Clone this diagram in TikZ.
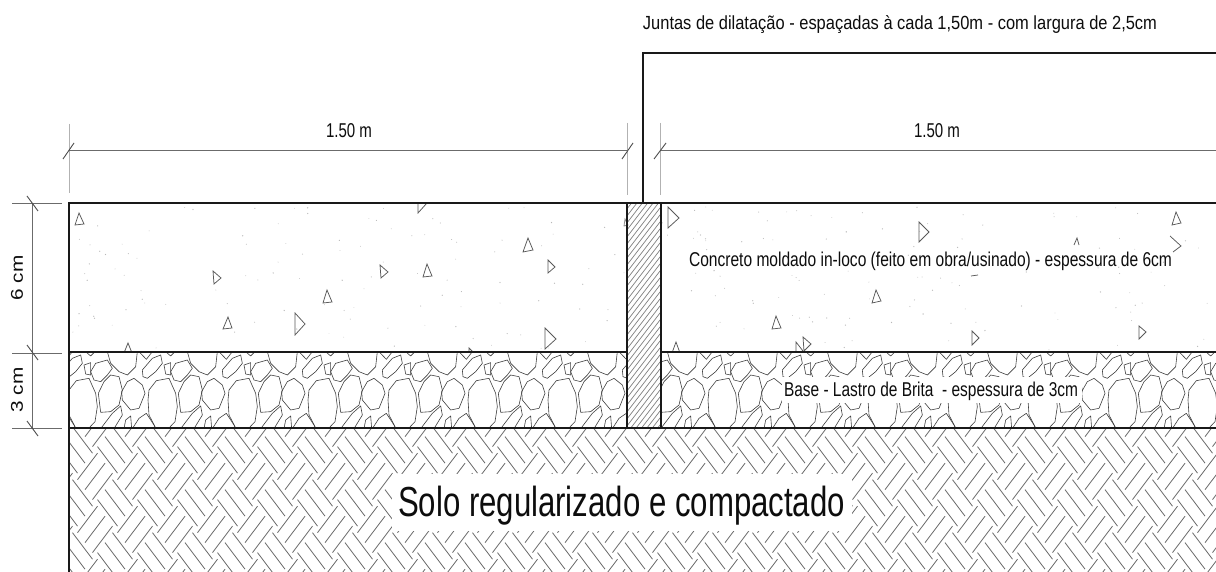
\documentclass[tikz,border=0pt]{standalone}
\usepackage{fontspec}
\usepackage{graphicx}
\setmainfont{Liberation Sans}
\newcommand{\fittext}[3]{\resizebox{#1pt}{\height}{\fontsize{#2}{#2}\selectfont #3}}
\newcommand{\stone}[1]{\draw[stoneline] plot coordinates {#1} -- cycle;}
\definecolor{dimgray}{gray}{0.42}
\definecolor{extgray}{gray}{0.7}
\definecolor{hatchgray}{gray}{0.5}
\definecolor{soilgray}{gray}{0.42}
\definecolor{dustgray}{gray}{0.72}
\tikzset{
  heavy/.style={line width=2pt,black!90},
  dimline/.style={line width=1pt,dimgray},
  extline/.style={line width=1pt,extgray},
  tickline/.style={line width=0.9pt,black!70},
  grainline/.style={line width=0.75pt,black!65,line join=miter},
  stoneline/.style={line width=0.6pt,black!75,line join=round},
  soilline/.style={line width=0.8pt,soilgray},
  label/.style={inner sep=0pt,outer sep=0pt,text=black!95,anchor=base}
}
\begin{document}
\begin{tikzpicture}[x=1pt,y=-1pt]
\useasboundingbox (0,0) rectangle (1216,572);
\fill[white] (0,0) rectangle (1216,572);

% soil hatch (herringbone)
\begin{scope}
\clip (69,428) rectangle (1216,572);
\foreach \i in {-2,...,30}{
 \foreach \j in {-1,...,3}{
  \begin{scope}[shift={(97.5+40*\i,446.6+53*\j)}]
   \draw[soilline] (0,0)--(20,26.5);
   \draw[soilline] (7.5,-9.94)--(27.5,16.56);
   \draw[soilline] (15,-19.9)--(35,6.6);
   \draw[soilline] (20,-19.9)--(40,-46.4);
   \draw[soilline] (27.5,-9.94)--(47.5,-36.4);
   \draw[soilline] (35,0)--(55,-26.5);
  \end{scope}
 }
}
\end{scope}
\fill[white] (392,474) rectangle (852,531);

% gravel
\begin{scope}
\clip (69,352) rectangle (627,428) (661,352) rectangle (1216,428);
\foreach \k in {-1,...,15}{
 \begin{scope}[xshift=69pt+\k*80pt,yshift=-350pt,scale=0.33333]
  \stone{(-3,150) (0,120) (22,92) (60,85) (80,130) (85,170) (78,215) (60,234) (20,234) (0,195)}
  \stone{(125,75) (150,80) (160,120) (150,165) (125,185) (95,187) (88,130) (105,95)}
  \stone{(195,85) (220,105) (228,130) (210,175) (185,180) (160,150) (158,125) (175,95)}
  \stone{(115,5) (205,5) (200,50) (175,75) (150,65) (125,40)}
  \stone{(65,65) (80,40) (115,30) (130,55) (115,75) (95,95) (75,90)}
  \stone{(45,45) (65,38) (65,75) (50,72)}
  \stone{(220,60) (250,25) (275,15) (280,40) (260,65) (235,85) (222,80)}
  \stone{(95,236) (130,190) (155,168) (160,195) (135,236)}
  \stone{(165,236) (170,210) (185,198) (188,236)}
  \stone{(190,236) (210,205) (232,190) (255,225) (260,236)}
  \stone{(50,5) (65,18) (78,5)}
  \stone{(210,5) (232,28) (250,5)}
 \end{scope}
}
\end{scope}
\fill[white] (782,377) rectangle (1082,403);

% concrete aggregates
\begin{scope}
\clip (69,203) rectangle (1216,352);
\pgfmathsetseed{11}
\foreach \n in {1,...,230}{
 \pgfmathsetmacro{\px}{72+1144*rnd}
 \pgfmathsetmacro{\py}{207+143*rnd}
 \pgfmathsetmacro{\sz}{0.35+0.35*rnd}
 \fill[dustgray] (\px,\py) circle (\sz);
}
\foreach \xa/\ya/\xb/\yb/\xc/\yc in {
 79/213/84/224/75/225,213/271/221/278/214/284,
 228/317/232/328/223/329,295/313/305/324/295/335,
 327/290/332/302/323/303,380/265/388/272/381/278,
 427/264/432/276/423/277,418/203/418/213/427/203,
 528/238/533/250/523/252,548/260/555/267/548/273,
 545/328/556/339/545/349,128/343/132/353/124/353,
 668/207/679/218/668/228,919/222/929/232/919/242,
 876/290/881/301/872/303,776/316/781/328/772/329,
 676/342/680/353/672/353,796/342/803/351/796/353,
 803/337/811/344/804/351,1176/212/1181/223/1172/225,
 972/331/979/338/972/345,1139/326/1146/332/1139/339,
 469/348/473/352/469/353}{
 \draw[grainline] (\xa,\ya) -- (\xb,\yb) -- (\xc,\yc) -- cycle;
}
\draw[grainline] (1170,236) -- (1181,246) -- (1173,252);
\draw[grainline] (1074,245) -- (1077,238) -- (1079,245);
\draw[grainline] (971,276) -- (978,275);
\end{scope}

% joint
\fill[white] (627,203) rectangle (661,428);
\begin{scope}
\clip (627,203) rectangle (661,428);
\foreach \s in {1,...,60}{
 \draw[line width=0.7pt,hatchgray] (560,205+\s*7) -- ++(120,-156);
}
\end{scope}
\draw[grainline,black!45] (625,219) -- (628,225) -- (624,226) -- cycle;

% heavy outlines
\draw[heavy] (1216,203) -- (69,203) -- (69,572);
\draw[heavy] (69,352) -- (627,352);
\draw[heavy] (661,352) -- (1216,352);
\draw[heavy] (69,428) -- (1216,428);
\draw[heavy] (627,203) -- (627,428);
\draw[heavy] (661,203) -- (661,428);
\draw[line width=1.6pt,black!90] (643,203) -- (643,53) -- (1216,53);

% dimensions
\draw[extline] (69,124) -- (69,193);
\draw[extline] (627,123) -- (627,195);
\draw[extline] (660,123) -- (660,195);
\draw[dimline] (69,151) -- (627,151);
\draw[dimline] (660,151) -- (1216,151);
\draw[tickline] (63,159) -- (74,143);
\draw[tickline] (622,159) -- (633,143);
\draw[tickline] (654,159) -- (666,143);
\draw[dimline] (12,203.5) -- (62,203.5);
\draw[dimline] (12,353) -- (62,353);
\draw[dimline] (12,428) -- (62,428);
\draw[dimline] (32,203.5) -- (32,428);
\draw[tickline] (27,196) -- (38,211);
\draw[tickline] (27,345) -- (38,360);
\draw[tickline] (27,421) -- (38,436);

% texts
\node[label] (juntas) at (900,30) {\fittext{514}{19}{Juntas de dilatação - espaçadas à cada 1,50m - com largura de 2,5cm}};
\node[label] (dimA) at (349,138) {\fittext{46}{20}{1.50 m}};
\node[label] (dimB) at (937,138) {\fittext{46}{20}{1.50 m}};
\node[label] (concreto) at (930.5,267) {\fittext{483}{20}{Concreto moldado in-loco (feito em obra/usinado) - espessura de 6cm}};
\node[label] (base) at (931,396) {\fittext{294}{20}{Base - Lastro de Brita\ \ - espessura de 3cm}};
\node[label] (solo) at (621.5,516) {\fittext{447}{42}{Solo regularizado e compactado}};
\node[label,anchor=center,rotate=90] (seis) at (17,278) {\fittext{45}{17}{6 cm}};
\node[label,anchor=center,rotate=90] (tres) at (17,390) {\fittext{45}{17}{3 cm}};
\end{tikzpicture}
\end{document}
